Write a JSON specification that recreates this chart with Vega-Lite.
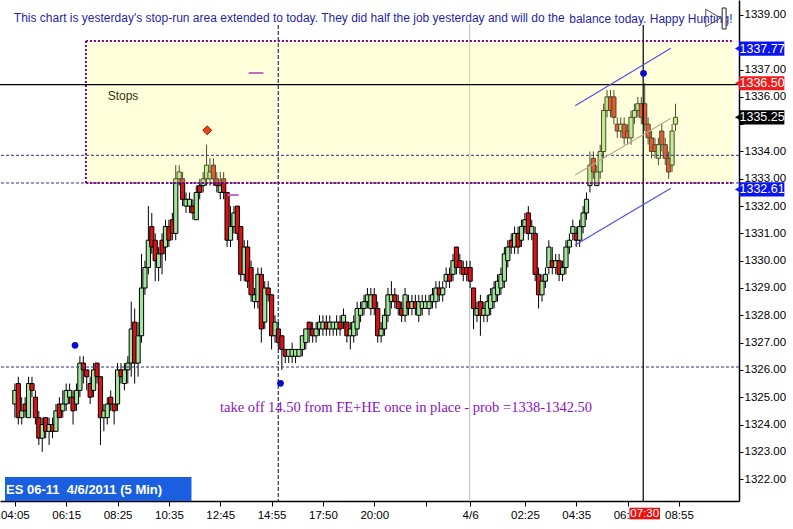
{
  "$schema": "https://vega.github.io/schema/vega-lite/v6.json",
  "width": 739,
  "height": 501,
  "autosize": {"type": "none"},
  "padding": {"left": 0, "top": 0, "right": 54, "bottom": 28},
  "background": "#ffffff",
  "config": {"view": {"stroke": null}, "font": "Liberation Sans", "axis": {"title": null, "grid": false}},
  "datasets": {
    "candles": [
      {"i":0,"o":1324.75,"h":1325.5,"l":1324.25,"c":1325.25},
      {"i":1,"o":1325.5,"h":1325.75,"l":1324,"c":1324.25},
      {"i":2,"o":1324.25,"h":1325,"l":1324,"c":1324.5},
      {"i":3,"o":1324.75,"h":1325,"l":1324.25,"c":1324.5},
      {"i":4,"o":1324.25,"h":1325.75,"l":1324.25,"c":1325.5},
      {"i":5,"o":1325.5,"h":1325.75,"l":1325,"c":1325.25},
      {"i":6,"o":1325,"h":1325.25,"l":1324,"c":1324.25},
      {"i":7,"o":1324.25,"h":1324.5,"l":1323.25,"c":1323.5},
      {"i":8,"o":1323.5,"h":1324.25,"l":1323,"c":1324},
      {"i":9,"o":1324.25,"h":1324.25,"l":1323.5,"c":1323.75},
      {"i":10,"o":1323.75,"h":1324.25,"l":1323.25,"c":1324},
      {"i":11,"o":1324,"h":1324.25,"l":1323.5,"c":1323.75},
      {"i":12,"o":1323.75,"h":1324.75,"l":1323.75,"c":1324.5},
      {"i":13,"o":1324.75,"h":1325,"l":1324.25,"c":1324.25},
      {"i":14,"o":1324.5,"h":1325.25,"l":1324.25,"c":1324.75},
      {"i":15,"o":1324.75,"h":1325.5,"l":1324.5,"c":1325.25},
      {"i":16,"o":1325,"h":1325.5,"l":1324.75,"c":1325.25},
      {"i":17,"o":1325,"h":1325.25,"l":1324,"c":1324.5},
      {"i":18,"o":1324.75,"h":1325.5,"l":1324.5,"c":1325.25},
      {"i":19,"o":1325.25,"h":1326.5,"l":1325,"c":1326.25},
      {"i":20,"o":1326.25,"h":1326.5,"l":1325.5,"c":1326},
      {"i":21,"o":1326,"h":1326,"l":1325.25,"c":1325.75},
      {"i":22,"o":1325.5,"h":1325.75,"l":1324.75,"c":1325},
      {"i":23,"o":1325.25,"h":1326.25,"l":1325,"c":1326},
      {"i":24,"o":1326.25,"h":1326.25,"l":1325.5,"c":1325.75},
      {"i":25,"o":1325.75,"h":1325.75,"l":1323.25,"c":1324.25},
      {"i":26,"o":1324.25,"h":1324.75,"l":1323.75,"c":1324.5},
      {"i":27,"o":1324.25,"h":1325,"l":1324,"c":1324.75},
      {"i":28,"o":1325,"h":1325.25,"l":1324.5,"c":1324.75},
      {"i":29,"o":1324.75,"h":1324.75,"l":1324,"c":1324.5},
      {"i":30,"o":1324.75,"h":1326.25,"l":1324.5,"c":1326},
      {"i":31,"o":1326,"h":1326.25,"l":1325.5,"c":1325.75},
      {"i":32,"o":1325.5,"h":1326.25,"l":1325.25,"c":1326},
      {"i":33,"o":1326,"h":1326.5,"l":1325.5,"c":1326.25},
      {"i":34,"o":1326.25,"h":1328.5,"l":1325.75,"c":1327.5},
      {"i":35,"o":1327.75,"h":1328.25,"l":1325.5,"c":1326.25},
      {"i":36,"o":1326.25,"h":1327.75,"l":1325.75,"c":1327.25},
      {"i":37,"o":1327.25,"h":1330.25,"l":1327,"c":1329},
      {"i":38,"o":1329,"h":1330,"l":1328.75,"c":1329.75},
      {"i":39,"o":1329.75,"h":1332,"l":1329.5,"c":1330.75},
      {"i":40,"o":1331.25,"h":1331.75,"l":1330.25,"c":1330.5},
      {"i":41,"o":1330.75,"h":1331,"l":1329.25,"c":1330},
      {"i":42,"o":1329.75,"h":1330.5,"l":1329.25,"c":1330.25},
      {"i":43,"o":1330.75,"h":1331,"l":1329.5,"c":1330.25},
      {"i":44,"o":1330.5,"h":1331.5,"l":1330,"c":1331.25},
      {"i":45,"o":1331.25,"h":1331.5,"l":1330.5,"c":1330.75},
      {"i":46,"o":1331.5,"h":1331.75,"l":1330.75,"c":1331},
      {"i":47,"o":1331,"h":1333.5,"l":1330.75,"c":1333},
      {"i":48,"o":1333,"h":1333.5,"l":1332.75,"c":1333.25},
      {"i":49,"o":1333,"h":1333.25,"l":1332,"c":1332.25},
      {"i":50,"o":1332,"h":1332.5,"l":1331.75,"c":1332.25},
      {"i":51,"o":1332,"h":1332.5,"l":1331.75,"c":1332.25},
      {"i":52,"o":1332,"h":1332.25,"l":1331.5,"c":1331.75},
      {"i":53,"o":1331.5,"h":1332.75,"l":1331.5,"c":1332.5},
      {"i":54,"o":1332.75,"h":1333,"l":1332.25,"c":1332.5},
      {"i":55,"o":1332.75,"h":1333.25,"l":1332.5,"c":1333},
      {"i":56,"o":1333,"h":1334.25,"l":1332.75,"c":1333.5},
      {"i":57,"o":1333,"h":1333.75,"l":1332.75,"c":1333.25},
      {"i":58,"o":1333.5,"h":1333.75,"l":1332.75,"c":1333},
      {"i":59,"o":1333,"h":1333.25,"l":1332.5,"c":1332.75},
      {"i":60,"o":1332.5,"h":1333.25,"l":1332.25,"c":1332.75},
      {"i":61,"o":1333,"h":1333.25,"l":1332.25,"c":1332.5},
      {"i":62,"o":1332.5,"h":1332.5,"l":1330.5,"c":1330.75},
      {"i":63,"o":1330.75,"h":1332,"l":1330.5,"c":1331.25},
      {"i":64,"o":1331.25,"h":1332,"l":1331,"c":1331.75},
      {"i":65,"o":1332,"h":1332,"l":1330.75,"c":1331},
      {"i":66,"o":1331.25,"h":1331.25,"l":1329.25,"c":1329.5},
      {"i":67,"o":1329.5,"h":1330.75,"l":1329.25,"c":1330.5},
      {"i":68,"o":1330.5,"h":1330.75,"l":1329,"c":1329.25},
      {"i":69,"o":1329.75,"h":1330,"l":1328.5,"c":1328.75},
      {"i":70,"o":1328.5,"h":1329,"l":1328.25,"c":1328.75},
      {"i":71,"o":1328.5,"h":1329.75,"l":1328.25,"c":1329.5},
      {"i":72,"o":1329.5,"h":1329.75,"l":1327,"c":1327.5},
      {"i":73,"o":1327.75,"h":1329.25,"l":1327.5,"c":1329},
      {"i":74,"o":1329,"h":1329.25,"l":1328.5,"c":1328.75},
      {"i":75,"o":1328.75,"h":1328.75,"l":1326.75,"c":1327.25},
      {"i":76,"o":1327.25,"h":1328,"l":1327,"c":1327.75},
      {"i":77,"o":1327.5,"h":1327.75,"l":1326.75,"c":1327},
      {"i":78,"o":1327.25,"h":1327.25,"l":1326,"c":1326.75},
      {"i":79,"o":1326.75,"h":1326.75,"l":1326.25,"c":1326.5},
      {"i":80,"o":1326.5,"h":1326.75,"l":1326.25,"c":1326.75},
      {"i":81,"o":1326.5,"h":1327,"l":1326.25,"c":1326.75},
      {"i":82,"o":1326.5,"h":1326.75,"l":1326.25,"c":1326.75},
      {"i":83,"o":1326.5,"h":1326.75,"l":1326.5,"c":1326.75},
      {"i":84,"o":1326.75,"h":1327.25,"l":1326.5,"c":1327.25},
      {"i":85,"o":1327,"h":1327.5,"l":1326.75,"c":1327.5},
      {"i":86,"o":1327.75,"h":1327.75,"l":1327,"c":1327.5},
      {"i":87,"o":1327.5,"h":1327.75,"l":1327,"c":1327.25},
      {"i":88,"o":1327.25,"h":1327.75,"l":1327,"c":1327.5},
      {"i":89,"o":1327.5,"h":1328,"l":1327.25,"c":1327.75},
      {"i":90,"o":1327.5,"h":1328,"l":1327.25,"c":1327.75},
      {"i":91,"o":1327.75,"h":1328,"l":1327.25,"c":1327.5},
      {"i":92,"o":1327.5,"h":1328,"l":1327.25,"c":1327.75},
      {"i":93,"o":1327.5,"h":1327.75,"l":1327.25,"c":1327.75},
      {"i":94,"o":1327.5,"h":1328,"l":1327.25,"c":1327.75},
      {"i":95,"o":1327.75,"h":1328,"l":1327.25,"c":1327.5},
      {"i":96,"o":1327.75,"h":1328.25,"l":1327.5,"c":1328},
      {"i":97,"o":1327.75,"h":1327.75,"l":1327,"c":1327.25},
      {"i":98,"o":1327.25,"h":1327.75,"l":1326.75,"c":1327.5},
      {"i":99,"o":1327.25,"h":1328,"l":1327,"c":1327.75},
      {"i":100,"o":1327.5,"h":1328.5,"l":1327.25,"c":1328.25},
      {"i":101,"o":1328,"h":1328.5,"l":1327.75,"c":1328.25},
      {"i":102,"o":1328.25,"h":1328.75,"l":1328,"c":1328.5},
      {"i":103,"o":1328.5,"h":1329,"l":1328.25,"c":1328.75},
      {"i":104,"o":1328.25,"h":1329,"l":1328,"c":1328.75},
      {"i":105,"o":1328.75,"h":1329,"l":1328,"c":1328.25},
      {"i":106,"o":1328.25,"h":1328.5,"l":1327,"c":1327.25},
      {"i":107,"o":1327.25,"h":1327.75,"l":1327,"c":1327.5},
      {"i":108,"o":1327.5,"h":1328.25,"l":1327.25,"c":1328},
      {"i":109,"o":1328,"h":1329,"l":1327.75,"c":1328.75},
      {"i":110,"o":1328.5,"h":1329.25,"l":1328.25,"c":1328.75},
      {"i":111,"o":1328.75,"h":1329,"l":1328.25,"c":1328.5},
      {"i":112,"o":1328.5,"h":1328.75,"l":1328,"c":1328.25},
      {"i":113,"o":1328.25,"h":1328.5,"l":1327.75,"c":1328},
      {"i":114,"o":1328,"h":1329,"l":1327.75,"c":1328.75},
      {"i":115,"o":1328.5,"h":1328.75,"l":1328,"c":1328.25},
      {"i":116,"o":1328.25,"h":1328.75,"l":1328,"c":1328.5},
      {"i":117,"o":1328.5,"h":1328.75,"l":1328,"c":1328.25},
      {"i":118,"o":1328,"h":1328.75,"l":1327.75,"c":1328.5},
      {"i":119,"o":1328.25,"h":1328.75,"l":1328,"c":1328.5},
      {"i":120,"o":1328.25,"h":1328.75,"l":1328.25,"c":1328.5},
      {"i":121,"o":1328.25,"h":1328.75,"l":1328,"c":1328.5},
      {"i":122,"o":1328.5,"h":1329,"l":1328.25,"c":1328.75},
      {"i":123,"o":1328.5,"h":1329.25,"l":1328.25,"c":1329},
      {"i":124,"o":1329,"h":1329.25,"l":1328.5,"c":1328.75},
      {"i":125,"o":1328.75,"h":1329.25,"l":1328.5,"c":1329},
      {"i":126,"o":1329.25,"h":1329.75,"l":1329,"c":1329.5},
      {"i":127,"o":1329.5,"h":1329.75,"l":1329,"c":1329.25},
      {"i":128,"o":1329.5,"h":1330.25,"l":1329.25,"c":1330},
      {"i":129,"o":1330.5,"h":1330.5,"l":1329.5,"c":1329.75},
      {"i":130,"o":1330,"h":1330.25,"l":1329.5,"c":1329.75},
      {"i":131,"o":1329.75,"h":1330,"l":1329.25,"c":1329.5},
      {"i":132,"o":1329.75,"h":1330,"l":1329.25,"c":1329.5},
      {"i":133,"o":1329.75,"h":1330,"l":1329,"c":1329.25},
      {"i":134,"o":1329,"h":1329,"l":1327.5,"c":1328.25},
      {"i":135,"o":1328,"h":1328.5,"l":1327.75,"c":1328.25},
      {"i":136,"o":1328.5,"h":1328.75,"l":1327.25,"c":1328},
      {"i":137,"o":1328,"h":1328.5,"l":1327.75,"c":1328.25},
      {"i":138,"o":1328,"h":1328.75,"l":1327.75,"c":1328.5},
      {"i":139,"o":1328.25,"h":1329,"l":1328,"c":1328.75},
      {"i":140,"o":1328.5,"h":1329.25,"l":1328.25,"c":1329},
      {"i":141,"o":1328.75,"h":1329.5,"l":1328.5,"c":1329.25},
      {"i":142,"o":1329,"h":1329.75,"l":1328.75,"c":1329.5},
      {"i":143,"o":1329.25,"h":1330.5,"l":1329,"c":1330.25},
      {"i":144,"o":1330,"h":1330.75,"l":1329.75,"c":1330.5},
      {"i":145,"o":1330.75,"h":1331,"l":1330.25,"c":1330.5},
      {"i":146,"o":1330.5,"h":1331.25,"l":1330.25,"c":1331},
      {"i":147,"o":1331,"h":1331.25,"l":1330.25,"c":1330.5},
      {"i":148,"o":1330.75,"h":1331.5,"l":1330.5,"c":1331.25},
      {"i":149,"o":1331.25,"h":1331.75,"l":1331,"c":1331.5},
      {"i":150,"o":1331.75,"h":1332,"l":1330.75,"c":1331},
      {"i":151,"o":1331,"h":1331.5,"l":1330.75,"c":1331.25},
      {"i":152,"o":1331,"h":1331.25,"l":1329.25,"c":1329.5},
      {"i":153,"o":1329.5,"h":1329.75,"l":1328.25,"c":1328.75},
      {"i":154,"o":1328.75,"h":1329.5,"l":1328.5,"c":1329.25},
      {"i":155,"o":1329.25,"h":1329.75,"l":1329,"c":1329.5},
      {"i":156,"o":1329.75,"h":1330.75,"l":1329.5,"c":1330.5},
      {"i":157,"o":1330,"h":1330.5,"l":1329.5,"c":1329.75},
      {"i":158,"o":1329.75,"h":1330.25,"l":1329.5,"c":1330},
      {"i":159,"o":1330,"h":1330.25,"l":1329.25,"c":1329.5},
      {"i":160,"o":1329.5,"h":1330,"l":1329.25,"c":1329.75},
      {"i":161,"o":1329.75,"h":1330.75,"l":1329.5,"c":1330.5},
      {"i":162,"o":1330.5,"h":1331,"l":1330.25,"c":1330.75},
      {"i":163,"o":1331,"h":1331.5,"l":1330.75,"c":1331.25},
      {"i":164,"o":1331,"h":1331.25,"l":1330.5,"c":1330.75},
      {"i":165,"o":1330.75,"h":1331.5,"l":1330.5,"c":1331.25},
      {"i":166,"o":1331.25,"h":1332,"l":1331,"c":1331.75},
      {"i":167,"o":1331.75,"h":1332.5,"l":1331.5,"c":1332.25},
      {"i":168,"o":1332.75,"h":1334,"l":1332.5,"c":1333.5},
      {"i":169,"o":1333.75,"h":1334,"l":1333,"c":1333.25},
      {"i":170,"o":1332.75,"h":1333.5,"l":1332.75,"c":1333.25},
      {"i":171,"o":1333.25,"h":1334.25,"l":1333,"c":1334},
      {"i":172,"o":1334,"h":1335.75,"l":1333.75,"c":1335.5},
      {"i":173,"o":1335.5,"h":1336.25,"l":1335.25,"c":1336},
      {"i":174,"o":1336,"h":1336.25,"l":1335.25,"c":1335.5},
      {"i":175,"o":1336,"h":1336.25,"l":1335,"c":1335.25},
      {"i":176,"o":1335,"h":1335.25,"l":1334.5,"c":1334.75},
      {"i":177,"o":1334.75,"h":1335.25,"l":1334.5,"c":1335},
      {"i":178,"o":1335,"h":1335.25,"l":1334.25,"c":1334.5},
      {"i":179,"o":1334.75,"h":1335,"l":1334.25,"c":1334.5},
      {"i":180,"o":1334.5,"h":1335.5,"l":1334.25,"c":1335.25},
      {"i":181,"o":1335.25,"h":1335.75,"l":1335,"c":1335.5},
      {"i":182,"o":1335.5,"h":1336,"l":1335.25,"c":1335.75},
      {"i":183,"o":1335.75,"h":1336,"l":1335,"c":1335.25},
      {"i":184,"o":1335.75,"h":1336.5,"l":1334.75,"c":1335},
      {"i":185,"o":1335,"h":1335.25,"l":1334.25,"c":1334.5},
      {"i":186,"o":1334.5,"h":1334.75,"l":1333.75,"c":1334},
      {"i":187,"o":1334.25,"h":1334.5,"l":1333.75,"c":1334},
      {"i":188,"o":1333.75,"h":1334.5,"l":1333.5,"c":1334.25},
      {"i":189,"o":1334.75,"h":1335,"l":1334,"c":1334.25},
      {"i":190,"o":1334.25,"h":1334.5,"l":1333.5,"c":1333.75},
      {"i":191,"o":1333.75,"h":1334,"l":1333,"c":1333.25},
      {"i":192,"o":1333.5,"h":1335,"l":1333.25,"c":1334.75},
      {"i":193,"o":1335,"h":1335.75,"l":1334.75,"c":1335.25}
    ],
    "vlines": [
      {"kind":"day","x":132.85,"top":1338.67,"bottom":1321.2},
      {"kind":"dash","x":76.95,"top":1338.63,"bottom":1321.2},
      {"kind":"cross","x":183.57,"top":1338.63,"bottom":1321.2}
    ],
    "levels": [
      {"kind":"dash","p":1333.86},
      {"kind":"dash","p":1332.846},
      {"kind":"dash","p":1326.106},
      {"kind":"solid","p":1336.45}
    ],
    "zone": [{"x1":20.75,"x2":210.09,"p1":1332.846,"p2":1338.047}],
    "border": [
      {"x1":20.75,"x2":210.09,"p1":1338.047,"p2":1338.047},
      {"x1":20.75,"x2":210.09,"p1":1332.846,"p2":1332.846},
      {"x1":20.75,"x2":20.75,"p1":1332.846,"p2":1338.047}
    ],
    "channel": [
      {"kind":"blue","x1":163.69,"x2":191.64,"p1":1335.677,"p2":1337.78},
      {"kind":"blue","x1":163.69,"x2":191.64,"p1":1330.575,"p2":1332.652},
      {"kind":"tan","x1":163.69,"x2":191.64,"p1":1333.139,"p2":1335.216}
    ],
    "marks": [
      {"x1":68.3,"x2":72.6,"p":1336.875},
      {"x1":62.2,"x2":65.4,"p":1332.406}
    ],
    "dots": [
      {"x":17.58,"p":1326.901},
      {"x":77.61,"p":1325.509},
      {"x":183.66,"p":1336.864}
    ],
    "diamond": [{"x":56.2,"p":1334.776}],
    "notes": [
      {"kind":"title","x":-0.3,"p":1338.9,"t":"This chart is yesterday's stop-run area extended to today. They did half the job yesterday and will do the"},
      {"kind":"title","x":161.96,"p":1338.86,"t":"balance today. Happy Hunting!"},
      {"kind":"stops","x":27.1,"p":1336.03,"t":"Stops"},
      {"kind":"plan","x":59.94,"p":1324.62,"t":"take off 14.50 from FE+HE once in place - prob =1338-1342.50"}
    ],
    "prices": [
      {"kind":"blue","p":1337.77,"t":"1337.77"},
      {"kind":"red","p":1336.5,"t":"1336.50"},
      {"kind":"black","p":1335.25,"t":"1335.25"},
      {"kind":"blue","p":1332.61,"t":"1332.61"}
    ],
    "symbol": [{"x1":-2.882,"x2":51.6,"p1":1321.198,"p2":1322.077,"tx":-2.59,"tp":1321.6,"t":"ES 06-11\u00a0\u00a04/6/2011 (5 Min)"}],
    "cursor": [{"x1":179.54,"x2":188.47,"p1":1320.527,"p2":1320.952,"tx":184.0,"tp":1320.74,"t":"07:30"}],
    "icon": [{"x":204.03,"p":1338.89,"x1":206.63,"x2":207.78,"p1":1338.487,"p2":1339.256}]
  },
  "layer": [
    {
      "data": {"name": "vlines"},
      "transform": [{"filter": "datum.kind == 'day'"}],
      "mark": {"type": "rule", "color": "#c4c4c4", "strokeWidth": 1.2},
      "encoding": {
        "x": {"field": "x", "type": "quantitative", "scale": {"domain": [-2.882, 210.09], "nice": false, "zero": false},
          "axis": {"values": [0,15,30,45,60,75,90,105,120,133,149,164,179,194], "title": null, "grid": false,
            "labelExpr": "datum.value==0?'04:05':datum.value==15?'06:15':datum.value==30?'08:25':datum.value==45?'10:35':datum.value==60?'12:45':datum.value==75?'14:55':datum.value==90?'17:50':datum.value==105?'20:00':datum.value==133?'4/6':datum.value==149?'02:25':datum.value==164?'04:35':datum.value==179?'06:45':datum.value==194?'08:55':''",
            "domainColor": "#000000", "domainWidth": 1.5, "tickColor": "#000000", "tickSize": 5, "labelColor": "#000000",
            "labelFontSize": 11.5, "labelPadding": 3, "labelFlush": false, "labelOverlap": false, "labelBound": false}},
        "y": {"field": "top", "type": "quantitative", "scale": {"domain": [1321.198, 1339.549], "nice": false, "zero": false},
          "axis": {"orient": "right", "values": [1322,1323,1324,1325,1326,1327,1328,1329,1330,1331,1332,1333,1334,1335,1336,1337,1338,1339], "format": ".2f", "labelExpr": "(datum.value == 1338 || datum.value == 1335) ? '' : datum.label", "title": null, "grid": false, "domainColor": "#000000", "domainWidth": 1.5, "tickColor": "#000000", "tickSize": 4, "labelPadding": 1, "labelColor": "#000000", "labelFontSize": 11.5, "labelOverlap": false, "labelBound": false}},
        "y2": {"field": "bottom"}
      }
    },
    {
      "data": {"name": "candles"},
      "mark": {"type": "rule", "color": "#000000", "strokeWidth": 1},
      "encoding": {
        "x": {"field": "i", "type": "quantitative"},
        "y": {"field": "l", "type": "quantitative", "axis": {"orient": "right", "values": [1322,1323,1324,1325,1326,1327,1328,1329,1330,1331,1332,1333,1334,1335,1336,1337,1338,1339], "format": ".2f", "labelExpr": "(datum.value == 1338 || datum.value == 1335) ? '' : datum.label", "title": null, "grid": false, "domainColor": "#000000", "domainWidth": 1.5, "tickColor": "#000000", "tickSize": 4, "labelPadding": 1, "labelColor": "#000000", "labelFontSize": 11.5, "labelOverlap": false, "labelBound": false}},
        "y2": {"field": "h"}
      }
    },
    {
      "data": {"name": "candles"},
      "mark": {"type": "bar", "size": 4.2, "stroke": "#000000", "strokeWidth": 1},
      "encoding": {
        "x": {"field": "i", "type": "quantitative"},
        "y": {"field": "o", "type": "quantitative", "axis": {"orient": "right", "values": [1322,1323,1324,1325,1326,1327,1328,1329,1330,1331,1332,1333,1334,1335,1336,1337,1338,1339], "format": ".2f", "labelExpr": "(datum.value == 1338 || datum.value == 1335) ? '' : datum.label", "title": null, "grid": false, "domainColor": "#000000", "domainWidth": 1.5, "tickColor": "#000000", "tickSize": 4, "labelPadding": 1, "labelColor": "#000000", "labelFontSize": 11.5, "labelOverlap": false, "labelBound": false}},
        "y2": {"field": "c"},
        "fill": {"condition": {"test": "datum.c >= datum.o", "value": "#a2e69c"}, "value": "#dd1111"}
      }
    },
    {
      "data": {"name": "zone"},
      "mark": {"type": "rect", "fill": "#ffff88", "opacity": 0.3},
      "encoding": {
        "x": {"field": "x1", "type": "quantitative"},
        "x2": {"field": "x2"},
        "y": {"field": "p1", "type": "quantitative", "axis": {"orient": "right", "values": [1322,1323,1324,1325,1326,1327,1328,1329,1330,1331,1332,1333,1334,1335,1336,1337,1338,1339], "format": ".2f", "labelExpr": "(datum.value == 1338 || datum.value == 1335) ? '' : datum.label", "title": null, "grid": false, "domainColor": "#000000", "domainWidth": 1.5, "tickColor": "#000000", "tickSize": 4, "labelPadding": 1, "labelColor": "#000000", "labelFontSize": 11.5, "labelOverlap": false, "labelBound": false}},
        "y2": {"field": "p2"}
      }
    },
    {
      "data": {"name": "levels"},
      "transform": [{"filter": "datum.kind == 'dash'"}],
      "mark": {"type": "rule", "color": "#30307a", "strokeWidth": 1, "strokeDash": [3, 2]},
      "encoding": {
        "y": {"field": "p", "type": "quantitative", "axis": {"orient": "right", "values": [1322,1323,1324,1325,1326,1327,1328,1329,1330,1331,1332,1333,1334,1335,1336,1337,1338,1339], "format": ".2f", "labelExpr": "(datum.value == 1338 || datum.value == 1335) ? '' : datum.label", "title": null, "grid": false, "domainColor": "#000000", "domainWidth": 1.5, "tickColor": "#000000", "tickSize": 4, "labelPadding": 1, "labelColor": "#000000", "labelFontSize": 11.5, "labelOverlap": false, "labelBound": false}}
      }
    },
    {
      "data": {"name": "levels"},
      "transform": [{"filter": "datum.kind == 'solid'"}],
      "mark": {"type": "rule", "color": "#000000", "strokeWidth": 1.2},
      "encoding": {
        "y": {"field": "p", "type": "quantitative", "axis": {"orient": "right", "values": [1322,1323,1324,1325,1326,1327,1328,1329,1330,1331,1332,1333,1334,1335,1336,1337,1338,1339], "format": ".2f", "labelExpr": "(datum.value == 1338 || datum.value == 1335) ? '' : datum.label", "title": null, "grid": false, "domainColor": "#000000", "domainWidth": 1.5, "tickColor": "#000000", "tickSize": 4, "labelPadding": 1, "labelColor": "#000000", "labelFontSize": 11.5, "labelOverlap": false, "labelBound": false}}
      }
    },
    {
      "data": {"name": "vlines"},
      "transform": [{"filter": "datum.kind == 'dash'"}],
      "mark": {"type": "rule", "color": "#30307a", "strokeWidth": 1.2, "strokeDash": [4, 2]},
      "encoding": {
        "x": {"field": "x", "type": "quantitative"},
        "y": {"field": "top", "type": "quantitative", "axis": {"orient": "right", "values": [1322,1323,1324,1325,1326,1327,1328,1329,1330,1331,1332,1333,1334,1335,1336,1337,1338,1339], "format": ".2f", "labelExpr": "(datum.value == 1338 || datum.value == 1335) ? '' : datum.label", "title": null, "grid": false, "domainColor": "#000000", "domainWidth": 1.5, "tickColor": "#000000", "tickSize": 4, "labelPadding": 1, "labelColor": "#000000", "labelFontSize": 11.5, "labelOverlap": false, "labelBound": false}},
        "y2": {"field": "bottom"}
      }
    },
    {
      "data": {"name": "vlines"},
      "transform": [{"filter": "datum.kind == 'cross'"}],
      "mark": {"type": "rule", "color": "#000000", "strokeWidth": 1.2},
      "encoding": {
        "x": {"field": "x", "type": "quantitative"},
        "y": {"field": "top", "type": "quantitative", "axis": {"orient": "right", "values": [1322,1323,1324,1325,1326,1327,1328,1329,1330,1331,1332,1333,1334,1335,1336,1337,1338,1339], "format": ".2f", "labelExpr": "(datum.value == 1338 || datum.value == 1335) ? '' : datum.label", "title": null, "grid": false, "domainColor": "#000000", "domainWidth": 1.5, "tickColor": "#000000", "tickSize": 4, "labelPadding": 1, "labelColor": "#000000", "labelFontSize": 11.5, "labelOverlap": false, "labelBound": false}},
        "y2": {"field": "bottom"}
      }
    },
    {
      "data": {"name": "border"},
      "mark": {"type": "rule", "color": "#800080", "strokeWidth": 2, "strokeDash": [2, 2]},
      "encoding": {
        "x": {"field": "x1", "type": "quantitative"},
        "x2": {"field": "x2"},
        "y": {"field": "p1", "type": "quantitative", "axis": {"orient": "right", "values": [1322,1323,1324,1325,1326,1327,1328,1329,1330,1331,1332,1333,1334,1335,1336,1337,1338,1339], "format": ".2f", "labelExpr": "(datum.value == 1338 || datum.value == 1335) ? '' : datum.label", "title": null, "grid": false, "domainColor": "#000000", "domainWidth": 1.5, "tickColor": "#000000", "tickSize": 4, "labelPadding": 1, "labelColor": "#000000", "labelFontSize": 11.5, "labelOverlap": false, "labelBound": false}},
        "y2": {"field": "p2"}
      }
    },
    {
      "data": {"name": "channel"},
      "transform": [{"filter": "datum.kind == 'blue'"}],
      "mark": {"type": "rule", "color": "#5050ea", "strokeWidth": 1.2},
      "encoding": {
        "x": {"field": "x1", "type": "quantitative"},
        "x2": {"field": "x2"},
        "y": {"field": "p1", "type": "quantitative", "axis": {"orient": "right", "values": [1322,1323,1324,1325,1326,1327,1328,1329,1330,1331,1332,1333,1334,1335,1336,1337,1338,1339], "format": ".2f", "labelExpr": "(datum.value == 1338 || datum.value == 1335) ? '' : datum.label", "title": null, "grid": false, "domainColor": "#000000", "domainWidth": 1.5, "tickColor": "#000000", "tickSize": 4, "labelPadding": 1, "labelColor": "#000000", "labelFontSize": 11.5, "labelOverlap": false, "labelBound": false}},
        "y2": {"field": "p2"}
      }
    },
    {
      "data": {"name": "channel"},
      "transform": [{"filter": "datum.kind == 'tan'"}],
      "mark": {"type": "rule", "color": "#b4ae8a", "strokeWidth": 1.2},
      "encoding": {
        "x": {"field": "x1", "type": "quantitative"},
        "x2": {"field": "x2"},
        "y": {"field": "p1", "type": "quantitative", "axis": {"orient": "right", "values": [1322,1323,1324,1325,1326,1327,1328,1329,1330,1331,1332,1333,1334,1335,1336,1337,1338,1339], "format": ".2f", "labelExpr": "(datum.value == 1338 || datum.value == 1335) ? '' : datum.label", "title": null, "grid": false, "domainColor": "#000000", "domainWidth": 1.5, "tickColor": "#000000", "tickSize": 4, "labelPadding": 1, "labelColor": "#000000", "labelFontSize": 11.5, "labelOverlap": false, "labelBound": false}},
        "y2": {"field": "p2"}
      }
    },
    {
      "data": {"name": "marks"},
      "mark": {"type": "rule", "color": "#c56cc8", "strokeWidth": 2},
      "encoding": {
        "x": {"field": "x1", "type": "quantitative"},
        "x2": {"field": "x2"},
        "y": {"field": "p", "type": "quantitative", "axis": {"orient": "right", "values": [1322,1323,1324,1325,1326,1327,1328,1329,1330,1331,1332,1333,1334,1335,1336,1337,1338,1339], "format": ".2f", "labelExpr": "(datum.value == 1338 || datum.value == 1335) ? '' : datum.label", "title": null, "grid": false, "domainColor": "#000000", "domainWidth": 1.5, "tickColor": "#000000", "tickSize": 4, "labelPadding": 1, "labelColor": "#000000", "labelFontSize": 11.5, "labelOverlap": false, "labelBound": false}}
      }
    },
    {
      "data": {"name": "dots"},
      "mark": {"type": "point", "shape": "circle", "filled": true, "size": 45, "color": "#0a0acc", "opacity": 1},
      "encoding": {
        "x": {"field": "x", "type": "quantitative"},
        "y": {"field": "p", "type": "quantitative", "axis": {"orient": "right", "values": [1322,1323,1324,1325,1326,1327,1328,1329,1330,1331,1332,1333,1334,1335,1336,1337,1338,1339], "format": ".2f", "labelExpr": "(datum.value == 1338 || datum.value == 1335) ? '' : datum.label", "title": null, "grid": false, "domainColor": "#000000", "domainWidth": 1.5, "tickColor": "#000000", "tickSize": 4, "labelPadding": 1, "labelColor": "#000000", "labelFontSize": 11.5, "labelOverlap": false, "labelBound": false}}
      }
    },
    {
      "data": {"name": "diamond"},
      "mark": {"type": "point", "shape": "diamond", "filled": true, "size": 80, "fill": "#e8461a", "stroke": "#8b2500", "strokeWidth": 1, "opacity": 1},
      "encoding": {
        "x": {"field": "x", "type": "quantitative"},
        "y": {"field": "p", "type": "quantitative", "axis": {"orient": "right", "values": [1322,1323,1324,1325,1326,1327,1328,1329,1330,1331,1332,1333,1334,1335,1336,1337,1338,1339], "format": ".2f", "labelExpr": "(datum.value == 1338 || datum.value == 1335) ? '' : datum.label", "title": null, "grid": false, "domainColor": "#000000", "domainWidth": 1.5, "tickColor": "#000000", "tickSize": 4, "labelPadding": 1, "labelColor": "#000000", "labelFontSize": 11.5, "labelOverlap": false, "labelBound": false}}
      }
    },
    {
      "data": {"name": "notes"},
      "transform": [{"filter": "datum.kind == 'title'"}],
      "mark": {"type": "text", "align": "left", "baseline": "middle", "font": "Liberation Sans", "fontSize": 12, "color": "#1f1fa8"},
      "encoding": {
        "x": {"field": "x", "type": "quantitative"},
        "y": {"field": "p", "type": "quantitative", "axis": {"orient": "right", "values": [1322,1323,1324,1325,1326,1327,1328,1329,1330,1331,1332,1333,1334,1335,1336,1337,1338,1339], "format": ".2f", "labelExpr": "(datum.value == 1338 || datum.value == 1335) ? '' : datum.label", "title": null, "grid": false, "domainColor": "#000000", "domainWidth": 1.5, "tickColor": "#000000", "tickSize": 4, "labelPadding": 1, "labelColor": "#000000", "labelFontSize": 11.5, "labelOverlap": false, "labelBound": false}},
        "text": {"field": "t"}
      }
    },
    {
      "data": {"name": "notes"},
      "transform": [{"filter": "datum.kind == 'stops'"}],
      "mark": {"type": "text", "align": "left", "baseline": "middle", "font": "Liberation Sans", "fontSize": 12, "color": "#333311"},
      "encoding": {
        "x": {"field": "x", "type": "quantitative"},
        "y": {"field": "p", "type": "quantitative", "axis": {"orient": "right", "values": [1322,1323,1324,1325,1326,1327,1328,1329,1330,1331,1332,1333,1334,1335,1336,1337,1338,1339], "format": ".2f", "labelExpr": "(datum.value == 1338 || datum.value == 1335) ? '' : datum.label", "title": null, "grid": false, "domainColor": "#000000", "domainWidth": 1.5, "tickColor": "#000000", "tickSize": 4, "labelPadding": 1, "labelColor": "#000000", "labelFontSize": 11.5, "labelOverlap": false, "labelBound": false}},
        "text": {"field": "t"}
      }
    },
    {
      "data": {"name": "notes"},
      "transform": [{"filter": "datum.kind == 'plan'"}],
      "mark": {"type": "text", "align": "left", "baseline": "middle", "font": "Liberation Serif", "fontSize": 14.5, "color": "#8a12c6"},
      "encoding": {
        "x": {"field": "x", "type": "quantitative"},
        "y": {"field": "p", "type": "quantitative", "axis": {"orient": "right", "values": [1322,1323,1324,1325,1326,1327,1328,1329,1330,1331,1332,1333,1334,1335,1336,1337,1338,1339], "format": ".2f", "labelExpr": "(datum.value == 1338 || datum.value == 1335) ? '' : datum.label", "title": null, "grid": false, "domainColor": "#000000", "domainWidth": 1.5, "tickColor": "#000000", "tickSize": 4, "labelPadding": 1, "labelColor": "#000000", "labelFontSize": 11.5, "labelOverlap": false, "labelBound": false}},
        "text": {"field": "t"}
      }
    },
    {
      "data": {"name": "prices"},
      "mark": {"type": "point", "shape": "triangle-left", "filled": true, "size": 190, "opacity": 1},
      "encoding": {
        "x": {"datum": 212.1, "type": "quantitative"},
        "y": {"field": "p", "type": "quantitative", "axis": {"orient": "right", "values": [1322,1323,1324,1325,1326,1327,1328,1329,1330,1331,1332,1333,1334,1335,1336,1337,1338,1339], "format": ".2f", "labelExpr": "(datum.value == 1338 || datum.value == 1335) ? '' : datum.label", "title": null, "grid": false, "domainColor": "#000000", "domainWidth": 1.5, "tickColor": "#000000", "tickSize": 4, "labelPadding": 1, "labelColor": "#000000", "labelFontSize": 11.5, "labelOverlap": false, "labelBound": false}},
        "color": {"field": "kind", "type": "nominal", "scale": {"domain": ["blue", "red", "black"], "range": ["#0a14ee", "#f01c1c", "#000000"]}, "legend": null}
      }
    },
    {
      "data": {"name": "prices"},
      "transform": [{"calculate": "datum.p - 0.26", "as": "lo"}, {"calculate": "datum.p + 0.26", "as": "hi"}],
      "mark": {"type": "rect", "opacity": 1},
      "encoding": {
        "x": {"datum": 211.6, "type": "quantitative"},
        "x2": {"datum": 224.8},
        "y": {"field": "lo", "type": "quantitative", "axis": {"orient": "right", "values": [1322,1323,1324,1325,1326,1327,1328,1329,1330,1331,1332,1333,1334,1335,1336,1337,1338,1339], "format": ".2f", "labelExpr": "(datum.value == 1338 || datum.value == 1335) ? '' : datum.label", "title": null, "grid": false, "domainColor": "#000000", "domainWidth": 1.5, "tickColor": "#000000", "tickSize": 4, "labelPadding": 1, "labelColor": "#000000", "labelFontSize": 11.5, "labelOverlap": false, "labelBound": false}},
        "y2": {"field": "hi"},
        "color": {"field": "kind", "type": "nominal", "scale": {"domain": ["blue", "red", "black"], "range": ["#0a14ee", "#f01c1c", "#000000"]}, "legend": null}
      }
    },
    {
      "data": {"name": "prices"},
      "mark": {"type": "text", "align": "center", "baseline": "middle", "font": "Liberation Sans", "fontSize": 12.5, "color": "#ffffff"},
      "encoding": {
        "x": {"datum": 218.3, "type": "quantitative"},
        "y": {"field": "p", "type": "quantitative", "axis": {"orient": "right", "values": [1322,1323,1324,1325,1326,1327,1328,1329,1330,1331,1332,1333,1334,1335,1336,1337,1338,1339], "format": ".2f", "labelExpr": "(datum.value == 1338 || datum.value == 1335) ? '' : datum.label", "title": null, "grid": false, "domainColor": "#000000", "domainWidth": 1.5, "tickColor": "#000000", "tickSize": 4, "labelPadding": 1, "labelColor": "#000000", "labelFontSize": 11.5, "labelOverlap": false, "labelBound": false}},
        "text": {"field": "t"}
      }
    },
    {
      "data": {"name": "symbol"},
      "mark": {"type": "rect", "fill": "#1a5fe0"},
      "encoding": {
        "x": {"field": "x1", "type": "quantitative"},
        "x2": {"field": "x2"},
        "y": {"field": "p1", "type": "quantitative", "axis": {"orient": "right", "values": [1322,1323,1324,1325,1326,1327,1328,1329,1330,1331,1332,1333,1334,1335,1336,1337,1338,1339], "format": ".2f", "labelExpr": "(datum.value == 1338 || datum.value == 1335) ? '' : datum.label", "title": null, "grid": false, "domainColor": "#000000", "domainWidth": 1.5, "tickColor": "#000000", "tickSize": 4, "labelPadding": 1, "labelColor": "#000000", "labelFontSize": 11.5, "labelOverlap": false, "labelBound": false}},
        "y2": {"field": "p2"}
      }
    },
    {
      "data": {"name": "symbol"},
      "mark": {"type": "text", "align": "left", "baseline": "middle", "font": "Liberation Sans", "fontSize": 13, "fontWeight": "bold", "color": "#ffffff"},
      "encoding": {
        "x": {"field": "tx", "type": "quantitative"},
        "y": {"field": "tp", "type": "quantitative", "axis": {"orient": "right", "values": [1322,1323,1324,1325,1326,1327,1328,1329,1330,1331,1332,1333,1334,1335,1336,1337,1338,1339], "format": ".2f", "labelExpr": "(datum.value == 1338 || datum.value == 1335) ? '' : datum.label", "title": null, "grid": false, "domainColor": "#000000", "domainWidth": 1.5, "tickColor": "#000000", "tickSize": 4, "labelPadding": 1, "labelColor": "#000000", "labelFontSize": 11.5, "labelOverlap": false, "labelBound": false}},
        "text": {"field": "t"}
      }
    },
    {
      "data": {"name": "cursor"},
      "mark": {"type": "rect", "fill": "#ee1111"},
      "encoding": {
        "x": {"field": "x1", "type": "quantitative"},
        "x2": {"field": "x2"},
        "y": {"field": "p1", "type": "quantitative", "axis": {"orient": "right", "values": [1322,1323,1324,1325,1326,1327,1328,1329,1330,1331,1332,1333,1334,1335,1336,1337,1338,1339], "format": ".2f", "labelExpr": "(datum.value == 1338 || datum.value == 1335) ? '' : datum.label", "title": null, "grid": false, "domainColor": "#000000", "domainWidth": 1.5, "tickColor": "#000000", "tickSize": 4, "labelPadding": 1, "labelColor": "#000000", "labelFontSize": 11.5, "labelOverlap": false, "labelBound": false}},
        "y2": {"field": "p2"}
      }
    },
    {
      "data": {"name": "cursor"},
      "mark": {"type": "text", "align": "center", "baseline": "middle", "font": "Liberation Sans", "fontSize": 11.5, "color": "#ffffff"},
      "encoding": {
        "x": {"field": "tx", "type": "quantitative"},
        "y": {"field": "tp", "type": "quantitative", "axis": {"orient": "right", "values": [1322,1323,1324,1325,1326,1327,1328,1329,1330,1331,1332,1333,1334,1335,1336,1337,1338,1339], "format": ".2f", "labelExpr": "(datum.value == 1338 || datum.value == 1335) ? '' : datum.label", "title": null, "grid": false, "domainColor": "#000000", "domainWidth": 1.5, "tickColor": "#000000", "tickSize": 4, "labelPadding": 1, "labelColor": "#000000", "labelFontSize": 11.5, "labelOverlap": false, "labelBound": false}},
        "text": {"field": "t"}
      }
    },
    {
      "data": {"name": "icon"},
      "mark": {"type": "point", "shape": "triangle-right", "filled": false, "size": 300, "stroke": "#555555", "strokeWidth": 1, "opacity": 1},
      "encoding": {
        "x": {"field": "x", "type": "quantitative"},
        "y": {"field": "p", "type": "quantitative", "axis": {"orient": "right", "values": [1322,1323,1324,1325,1326,1327,1328,1329,1330,1331,1332,1333,1334,1335,1336,1337,1338,1339], "format": ".2f", "labelExpr": "(datum.value == 1338 || datum.value == 1335) ? '' : datum.label", "title": null, "grid": false, "domainColor": "#000000", "domainWidth": 1.5, "tickColor": "#000000", "tickSize": 4, "labelPadding": 1, "labelColor": "#000000", "labelFontSize": 11.5, "labelOverlap": false, "labelBound": false}}
      }
    },
    {
      "data": {"name": "icon"},
      "mark": {"type": "rect", "fill": "#ffffff", "stroke": "#222222", "strokeWidth": 1},
      "encoding": {
        "x": {"field": "x1", "type": "quantitative"},
        "x2": {"field": "x2"},
        "y": {"field": "p1", "type": "quantitative", "axis": {"orient": "right", "values": [1322,1323,1324,1325,1326,1327,1328,1329,1330,1331,1332,1333,1334,1335,1336,1337,1338,1339], "format": ".2f", "labelExpr": "(datum.value == 1338 || datum.value == 1335) ? '' : datum.label", "title": null, "grid": false, "domainColor": "#000000", "domainWidth": 1.5, "tickColor": "#000000", "tickSize": 4, "labelPadding": 1, "labelColor": "#000000", "labelFontSize": 11.5, "labelOverlap": false, "labelBound": false}},
        "y2": {"field": "p2"}
      }
    }
  ]
}
